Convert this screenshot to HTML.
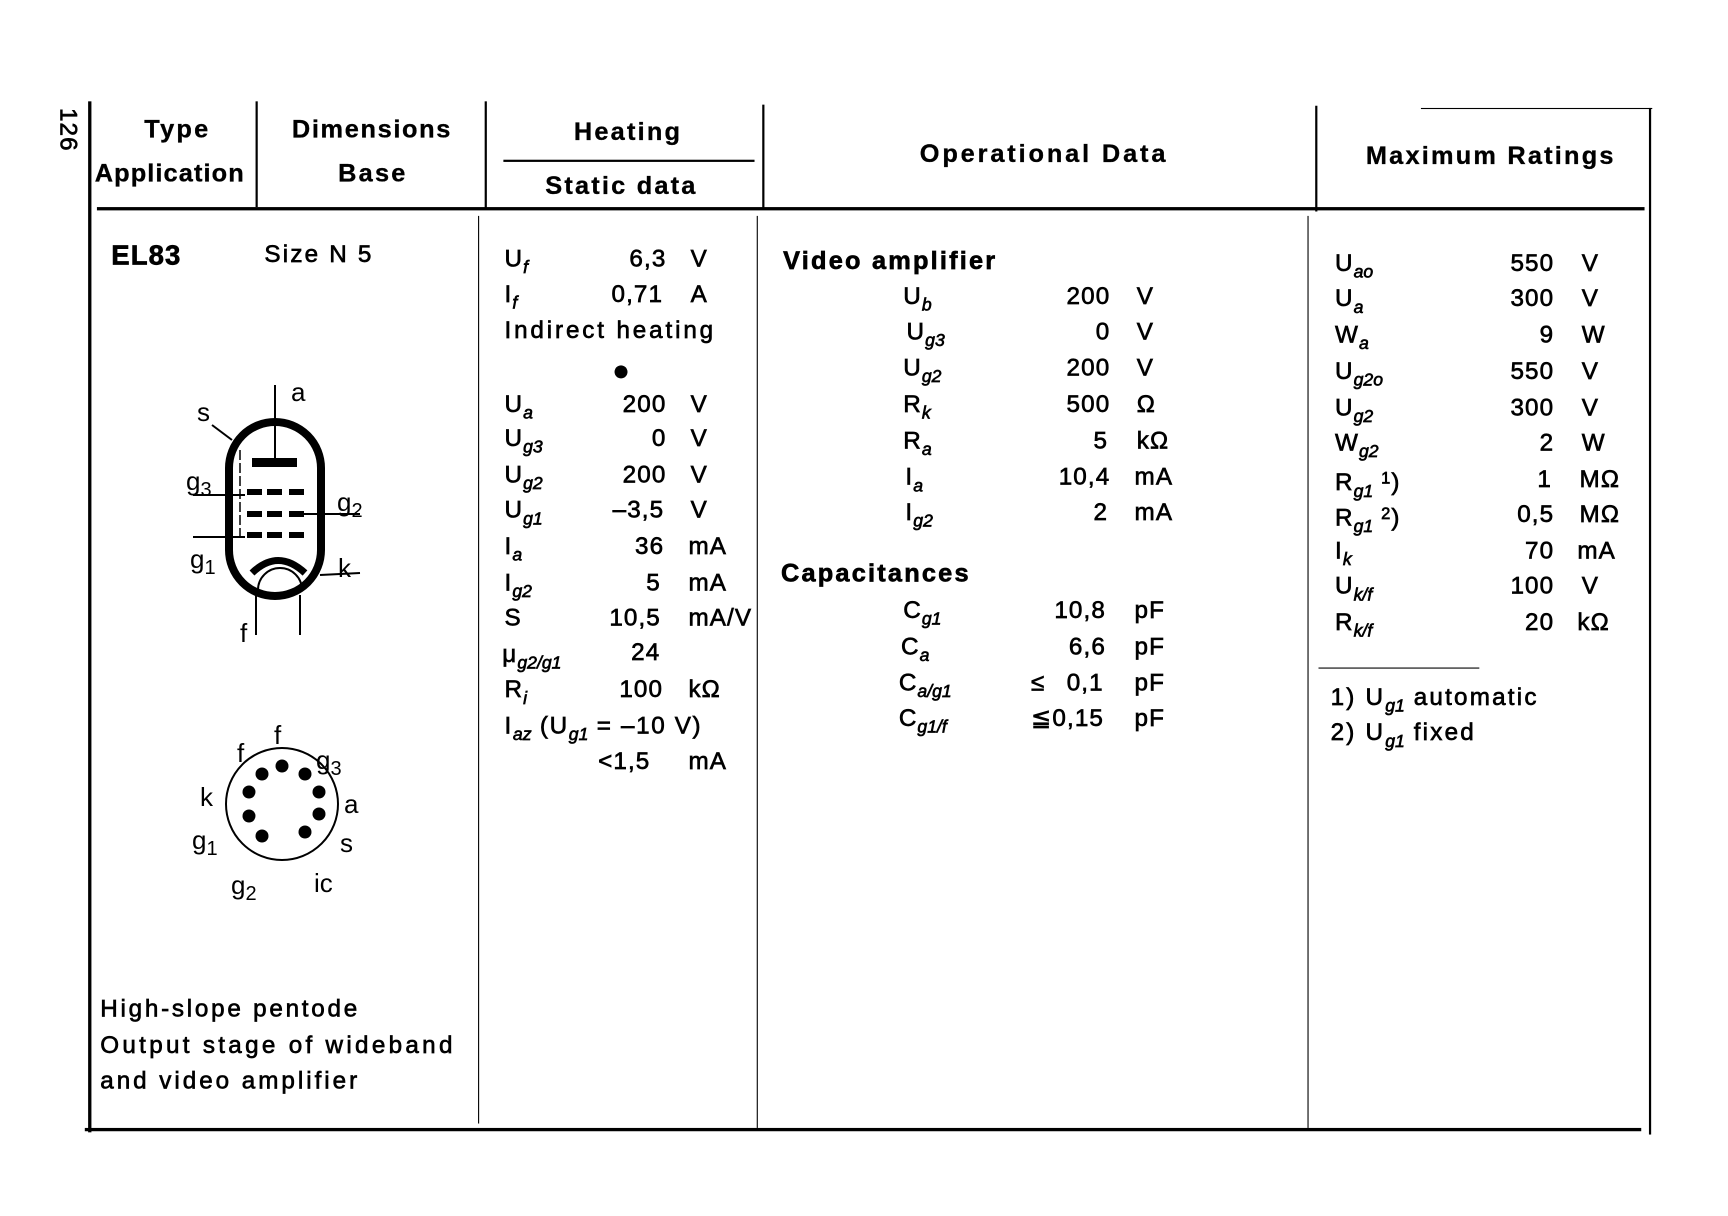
<!DOCTYPE html>
<html><head><meta charset="utf-8"><style>
html,body{margin:0;padding:0;background:#fff;}
body{width:1728px;height:1216px;overflow:hidden;position:relative;}
#w{position:absolute;left:0;top:0;width:1555px;height:1094px;transform:scale(1.1015);transform-origin:0 0;font-family:"Liberation Sans",sans-serif;color:#000;}
#w div.t{position:absolute;font-size:22px;line-height:24px;white-space:nowrap;-webkit-text-stroke:0.6px #000;letter-spacing:1px;}
#w div.h{font-size:23px;letter-spacing:2px;font-weight:bold;-webkit-text-stroke:0.3px #000;}
.b{font-weight:bold;}
.r{text-align:right;}
sub{font-size:16px;font-style:italic;vertical-align:-6px;line-height:0;letter-spacing:0;}
.ln{position:absolute;background:#000;}
svg{position:absolute;left:0;top:0;}
</style></head><body>
<div id="w">
<div class="ln" style="left:80px;top:92px;width:3px;height:936px"></div>
<div class="ln" style="left:77px;top:1024px;width:1413px;height:3px"></div>
<div class="ln" style="left:1497px;top:98px;width:2px;height:932px"></div>
<div class="ln" style="left:88px;top:188px;width:1405px;height:3px"></div>
<div class="ln" style="left:232px;top:92px;width:2px;height:96px"></div>
<div class="ln" style="left:440px;top:92px;width:2px;height:98px"></div>
<div class="ln" style="left:434px;top:196px;width:1px;height:824px"></div>
<div class="ln" style="left:692px;top:95px;width:2px;height:95px"></div>
<div class="ln" style="left:687px;top:196px;width:1px;height:828px"></div>
<div class="ln" style="left:1194px;top:96px;width:2px;height:96px"></div>
<div class="ln" style="left:1187px;top:196px;width:1px;height:828px"></div>
<div class="ln" style="left:457px;top:145px;width:228px;height:2px"></div>
<div class="ln" style="left:1290px;top:98px;width:210px;height:1px"></div>
<div class="ln" style="left:1197px;top:606px;width:146px;height:1px"></div>

<div class="t" style="left:50px;top:98px;transform:rotate(90deg);transform-origin:12px 12px">126</div>
<div class="t h" style="left:131px;top:105px">Type</div>
<div class="t h" style="left:86px;top:145px;letter-spacing:1px">Application</div>
<div class="t h" style="left:265px;top:105px;letter-spacing:1.5px">Dimensions</div>
<div class="t h" style="left:307px;top:145px">Base</div>
<div class="t h" style="left:521px;top:107px">Heating</div>
<div class="t h" style="left:495px;top:156px">Static data</div>
<div class="t h" style="left:835px;top:127px;letter-spacing:2.6px">Operational Data</div>
<div class="t h" style="left:1240px;top:129px;letter-spacing:2px">Maximum Ratings</div>

<div class="t b" style="left:101px;top:220px;font-size:25px">EL83</div>
<div class="t" style="left:240px;top:219px;letter-spacing:2px">Size N 5</div>
<div class="t" style="left:91px;top:904px;letter-spacing:2.5px">High-slope pentode</div>
<div class="t" style="left:91px;top:937px;letter-spacing:3px">Output stage of wideband</div>
<div class="t" style="left:91px;top:969px;letter-spacing:2.7px">and video amplifier</div>

<div class="t" style="left:458px;top:223px">U<sub>f</sub></div><div class="t r" style="left:540px;width:65px;top:223px">6,3</div><div class="t" style="left:627px;top:223px">V</div>
<div class="t" style="left:458px;top:255px">I<sub>f</sub></div><div class="t r" style="left:540px;width:62px;top:255px">0,71</div><div class="t" style="left:627px;top:255px">A</div>
<div class="t" style="left:458px;top:288px;letter-spacing:2.6px">Indirect heating</div>
<div class="t" style="left:556px;top:324px;font-size:26px">●</div>
<div class="t" style="left:458px;top:355px">U<sub>a</sub></div><div class="t r" style="left:540px;width:65px;top:355px">200</div><div class="t" style="left:627px;top:355px">V</div>
<div class="t" style="left:458px;top:386px">U<sub>g3</sub></div><div class="t r" style="left:540px;width:65px;top:386px">0</div><div class="t" style="left:627px;top:386px">V</div>
<div class="t" style="left:458px;top:419px">U<sub>g2</sub></div><div class="t r" style="left:540px;width:65px;top:419px">200</div><div class="t" style="left:627px;top:419px">V</div>
<div class="t" style="left:458px;top:451px">U<sub>g1</sub></div><div class="t r" style="left:540px;width:63px;top:451px">–3,5</div><div class="t" style="left:627px;top:451px">V</div>
<div class="t" style="left:458px;top:484px">I<sub>a</sub></div><div class="t r" style="left:540px;width:63px;top:484px">36</div><div class="t" style="left:625px;top:484px">mA</div>
<div class="t" style="left:458px;top:517px">I<sub>g2</sub></div><div class="t r" style="left:540px;width:60px;top:517px">5</div><div class="t" style="left:625px;top:517px">mA</div>
<div class="t" style="left:458px;top:549px">S</div><div class="t r" style="left:540px;width:60px;top:549px">10,5</div><div class="t" style="left:625px;top:549px">mA/V</div>
<div class="t" style="left:456px;top:582px">μ<sub>g2/g1</sub></div><div class="t" style="left:573px;top:580px">24</div>
<div class="t" style="left:458px;top:614px">R<sub>i</sub></div><div class="t r" style="left:540px;width:62px;top:614px">100</div><div class="t" style="left:625px;top:614px">kΩ</div>
<div class="t" style="left:458px;top:647px;letter-spacing:1.5px">I<sub>az</sub> (U<sub>g1</sub> = –10 V)</div>
<div class="t" style="left:543px;top:679px">&lt;1,5</div><div class="t" style="left:625px;top:679px">mA</div>

<div class="t b" style="left:711px;top:224px;font-size:23px;letter-spacing:2px">Video amplifier</div>
<div class="t" style="left:820px;top:257px">U<sub>b</sub></div><div class="t r" style="left:940px;width:68px;top:257px">200</div><div class="t" style="left:1032px;top:257px">V</div>
<div class="t" style="left:823px;top:289px">U<sub>g3</sub></div><div class="t r" style="left:940px;width:68px;top:289px">0</div><div class="t" style="left:1032px;top:289px">V</div>
<div class="t" style="left:820px;top:322px">U<sub>g2</sub></div><div class="t r" style="left:940px;width:68px;top:322px">200</div><div class="t" style="left:1032px;top:322px">V</div>
<div class="t" style="left:820px;top:355px">R<sub>k</sub></div><div class="t r" style="left:940px;width:68px;top:355px">500</div><div class="t" style="left:1032px;top:355px">Ω</div>
<div class="t" style="left:820px;top:388px">R<sub>a</sub></div><div class="t r" style="left:940px;width:66px;top:388px">5</div><div class="t" style="left:1032px;top:388px">kΩ</div>
<div class="t" style="left:822px;top:421px">I<sub>a</sub></div><div class="t r" style="left:940px;width:68px;top:421px">10,4</div><div class="t" style="left:1030px;top:421px">mA</div>
<div class="t" style="left:822px;top:453px">I<sub>g2</sub></div><div class="t r" style="left:940px;width:66px;top:453px">2</div><div class="t" style="left:1030px;top:453px">mA</div>
<div class="t b" style="left:709px;top:508px;font-size:23px;letter-spacing:2px">Capacitances</div>
<div class="t" style="left:820px;top:542px">C<sub>g1</sub></div><div class="t r" style="left:940px;width:64px;top:542px">10,8</div><div class="t" style="left:1030px;top:542px">pF</div>
<div class="t" style="left:818px;top:575px">C<sub>a</sub></div><div class="t r" style="left:940px;width:64px;top:575px">6,6</div><div class="t" style="left:1030px;top:575px">pF</div>
<div class="t" style="left:816px;top:608px">C<sub>a/g1</sub></div><div class="t" style="left:936px;top:608px">≤</div><div class="t r" style="left:950px;width:52px;top:608px">0,1</div><div class="t" style="left:1030px;top:608px">pF</div>
<div class="t" style="left:816px;top:640px">C<sub>g1/f</sub></div><div class="t" style="left:936px;top:640px">≦0,15</div><div class="t" style="left:1030px;top:640px">pF</div>

<div class="t" style="left:1212px;top:227px">U<sub>ao</sub></div><div class="t r" style="left:1340px;width:71px;top:227px">550</div><div class="t" style="left:1436px;top:227px">V</div>
<div class="t" style="left:1212px;top:259px">U<sub>a</sub></div><div class="t r" style="left:1340px;width:71px;top:259px">300</div><div class="t" style="left:1436px;top:259px">V</div>
<div class="t" style="left:1212px;top:292px">W<sub>a</sub></div><div class="t r" style="left:1340px;width:71px;top:292px">9</div><div class="t" style="left:1436px;top:292px">W</div>
<div class="t" style="left:1212px;top:325px">U<sub>g2o</sub></div><div class="t r" style="left:1340px;width:71px;top:325px">550</div><div class="t" style="left:1436px;top:325px">V</div>
<div class="t" style="left:1212px;top:358px">U<sub>g2</sub></div><div class="t r" style="left:1340px;width:71px;top:358px">300</div><div class="t" style="left:1436px;top:358px">V</div>
<div class="t" style="left:1212px;top:390px">W<sub>g2</sub></div><div class="t r" style="left:1340px;width:71px;top:390px">2</div><div class="t" style="left:1436px;top:390px">W</div>
<div class="t" style="left:1212px;top:423px">R<sub>g1</sub> <span style="font-size:15px;vertical-align:6px">1</span>)</div><div class="t r" style="left:1340px;width:69px;top:423px">1</div><div class="t" style="left:1434px;top:423px">MΩ</div>
<div class="t" style="left:1212px;top:455px">R<sub>g1</sub> <span style="font-size:15px;vertical-align:6px">2</span>)</div><div class="t r" style="left:1340px;width:71px;top:455px">0,5</div><div class="t" style="left:1434px;top:455px">MΩ</div>
<div class="t" style="left:1212px;top:488px">I<sub>k</sub></div><div class="t r" style="left:1340px;width:71px;top:488px">70</div><div class="t" style="left:1432px;top:488px">mA</div>
<div class="t" style="left:1212px;top:520px">U<sub>k/f</sub></div><div class="t r" style="left:1340px;width:71px;top:520px">100</div><div class="t" style="left:1436px;top:520px">V</div>
<div class="t" style="left:1212px;top:553px">R<sub>k/f</sub></div><div class="t r" style="left:1340px;width:71px;top:553px">20</div><div class="t" style="left:1432px;top:553px">kΩ</div>
<div class="t" style="left:1208px;top:621px;letter-spacing:2px">1) U<sub>g1</sub> automatic</div>
<div class="t" style="left:1208px;top:653px;letter-spacing:2px">2) U<sub>g1</sub> fixed</div>
</div>

<svg width="1728" height="1216" viewBox="0 0 1728 1216" font-family="Liberation Sans, sans-serif" font-size="26">
<rect x="229" y="422" width="92" height="174" rx="46" ry="46" fill="none" stroke="#000" stroke-width="8"/>
<line x1="275" y1="385" x2="275" y2="460" stroke="#000" stroke-width="2"/>
<rect x="252" y="458" width="45" height="9" fill="#000"/>
<g fill="#000">
<rect x="247" y="489" width="15" height="6"/><rect x="267" y="489" width="15" height="6"/><rect x="289" y="489" width="15" height="6"/>
<rect x="247" y="511" width="15" height="6"/><rect x="267" y="511" width="15" height="6"/><rect x="289" y="511" width="15" height="6"/>
<rect x="247" y="532" width="15" height="6"/><rect x="267" y="532" width="15" height="6"/><rect x="289" y="532" width="15" height="6"/>
</g>
<line x1="193" y1="495" x2="245" y2="495" stroke="#000" stroke-width="2"/>
<line x1="300" y1="514" x2="360" y2="514" stroke="#000" stroke-width="2"/>
<line x1="193" y1="537" x2="245" y2="537" stroke="#000" stroke-width="2"/>
<line x1="320" y1="575" x2="360" y2="573" stroke="#000" stroke-width="2"/>
<line x1="240" y1="450" x2="240" y2="540" stroke="#000" stroke-width="1.5" stroke-dasharray="10,3"/>
<path d="M252 573 Q278 548 305 573" fill="none" stroke="#000" stroke-width="7"/>
<path d="M258 590 A22 22 0 0 1 302 590" fill="none" stroke="#000" stroke-width="2"/>
<line x1="256" y1="595" x2="256" y2="635" stroke="#000" stroke-width="2"/>
<line x1="300" y1="595" x2="300" y2="635" stroke="#000" stroke-width="2"/>
<line x1="212" y1="425" x2="232" y2="440" stroke="#000" stroke-width="2"/>
<text x="291" y="401">a</text><text x="197" y="421">s</text>
<text x="186" y="490">g<tspan font-size="20" dy="6">3</tspan></text>
<text x="337" y="511">g<tspan font-size="20" dy="6">2</tspan></text>
<text x="190" y="568">g<tspan font-size="20" dy="6">1</tspan></text>
<text x="338" y="577">k</text><text x="240" y="642">f</text>
<g transform="translate(2,14)">
<circle cx="280" cy="790" r="56" fill="none" stroke="#000" stroke-width="2"/>
<g fill="#000">
<circle cx="280" cy="752" r="6.5"/><circle cx="303" cy="760" r="6.5"/><circle cx="317" cy="778" r="6.5"/><circle cx="317" cy="800" r="6.5"/><circle cx="303" cy="818" r="6.5"/><circle cx="260" cy="822" r="6.5"/><circle cx="247" cy="802" r="6.5"/><circle cx="247" cy="778" r="6.5"/><circle cx="260" cy="760" r="6.5"/>
</g>
<text x="235" y="748">f</text><text x="272" y="730">f</text>
<text x="314" y="755">g<tspan font-size="20" dy="6">3</tspan></text>
<text x="198" y="792">k</text><text x="342" y="799">a</text>
<text x="190" y="835">g<tspan font-size="20" dy="6">1</tspan></text>
<text x="338" y="838">s</text>
<text x="229" y="880">g<tspan font-size="20" dy="6">2</tspan></text>
<text x="312" y="878">ic</text>
</g>
</svg>
</body></html>
